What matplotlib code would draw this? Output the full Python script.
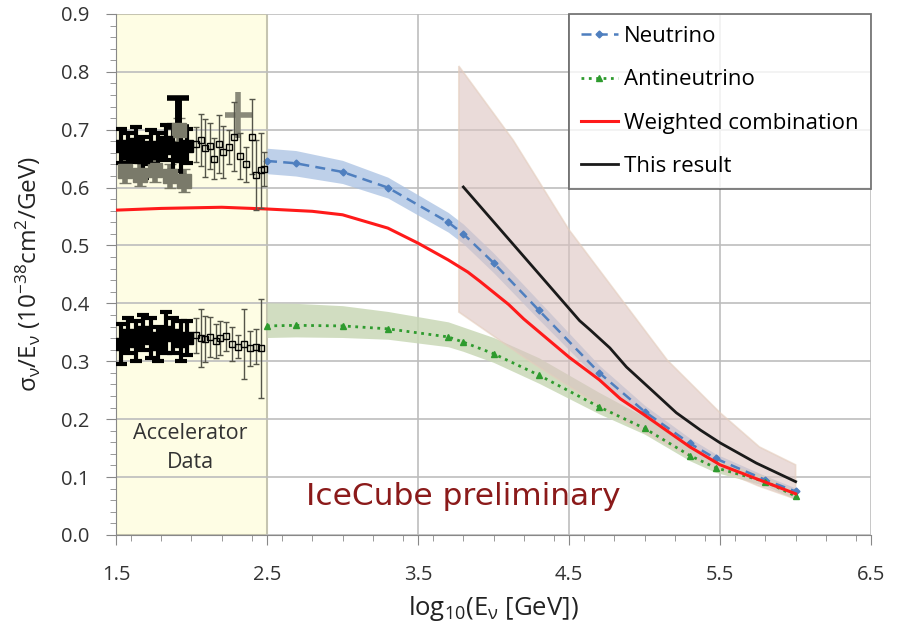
import numpy as np
import matplotlib
matplotlib.use("Agg")
import matplotlib.pyplot as plt
from matplotlib.ticker import MultipleLocator

plt.rcParams['mathtext.fontset'] = 'custom'
plt.rcParams['mathtext.rm'] = 'Open Sans'
plt.rcParams['mathtext.it'] = 'Open Sans:italic'

# -------------------------------
# Dados
# -------------------------------

# curvas de modelo (neutrino / antineutrino)
model_x = [2.5, 2.69, 3.0, 3.3, 3.7, 3.8, 4.0, 4.3, 4.7, 5.0, 5.3, 5.47, 5.8, 6.0]
nu_y = [0.646, 0.642, 0.627, 0.600, 0.540, 0.520, 0.470, 0.388, 0.280, 0.213, 0.158, 0.132, 0.095, 0.075]
nu_err = [0.022, 0.022, 0.020, 0.018, 0.017, 0.017, 0.017, 0.016, 0.013, 0.011, 0.009, 0.008, 0.007, 0.006]
anu_y = [0.361, 0.362, 0.361, 0.356, 0.342, 0.333, 0.313, 0.276, 0.221, 0.184, 0.137, 0.116, 0.092, 0.067]
anu_err_up = [0.040, 0.038, 0.035, 0.030, 0.026, 0.026, 0.028, 0.030, 0.025, 0.020, 0.015, 0.013, 0.010, 0.008]
anu_err_dn = [0.020, 0.020, 0.020, 0.018, 0.017, 0.016, 0.015, 0.014, 0.012, 0.010, 0.009, 0.008, 0.007, 0.006]

# combinação ponderada
comb_x = [1.5, 1.8, 2.2, 2.5, 2.8, 3.0, 3.3, 3.5, 3.7, 3.83, 3.91, 4.1, 4.2, 4.5, 4.7, 4.84, 5.0, 5.3, 5.5, 5.76, 6.0]
comb_y = [0.561, 0.564, 0.566, 0.563, 0.559, 0.553, 0.530, 0.504, 0.475, 0.454, 0.438, 0.398, 0.373, 0.307,
          0.268, 0.235, 0.207, 0.152, 0.121, 0.095, 0.071]

# este resultado (IceCube)
this_x = [3.8, 4.29, 4.57, 4.64, 4.77, 4.88, 5.06, 5.21, 5.37, 5.5, 5.74, 6.0]
this_y = [0.601, 0.454, 0.370, 0.354, 0.323, 0.290, 0.247, 0.211, 0.181, 0.159, 0.124, 0.092]
band_up_x = [3.77, 4.13, 4.5, 5.15, 5.5, 5.76, 6.0]
band_up_y = [0.810, 0.682, 0.527, 0.302, 0.211, 0.152, 0.121]
band_dn_x = [3.77, 4.24, 4.84, 5.3, 5.75, 6.0]
band_dn_y = [0.385, 0.300, 0.200, 0.135, 0.085, 0.062]

# dados de acelerador - neutrino
acc_nu_x = [1.53, 1.58, 1.63, 1.68, 1.73, 1.78, 1.83, 1.88, 1.93, 1.97]
acc_nu_y = [0.672, 0.660, 0.675, 0.652, 0.670, 0.660, 0.678, 0.668, 0.655, 0.672]
acc_nu_err = [0.030, 0.035, 0.030, 0.035, 0.030, 0.035, 0.030, 0.040, 0.035, 0.030]
acc_nu_gray_x = [1.56, 1.66, 1.76, 1.86, 1.95, 1.92]
acc_nu_gray_y = [0.628, 0.622, 0.630, 0.620, 0.612, 0.700]
acc_nu2_x = [2.03, 2.06, 2.09, 2.12, 2.15, 2.18, 2.21, 2.25, 2.28, 2.32, 2.36, 2.40, 2.43, 2.46, 2.48]
acc_nu2_y = [0.675, 0.682, 0.668, 0.672, 0.650, 0.676, 0.662, 0.670, 0.688, 0.655, 0.640, 0.688, 0.622, 0.630, 0.632]
acc_nu2_err = [0.030, 0.045, 0.050, 0.040, 0.035, 0.050, 0.045, 0.030, 0.060, 0.040, 0.030, 0.065, 0.060, 0.065, 0.030]

# dados de acelerador - antineutrino
acc_anu_x = [1.53, 1.58, 1.63, 1.68, 1.73, 1.78, 1.83, 1.88, 1.93, 1.97]
acc_anu_y = [0.330, 0.345, 0.335, 0.350, 0.340, 0.330, 0.350, 0.345, 0.335, 0.340]
acc_anu_err = [0.035, 0.030, 0.035, 0.030, 0.035, 0.030, 0.035, 0.030, 0.035, 0.030]
acc_anu2_x = [2.03, 2.06, 2.09, 2.12, 2.16, 2.19, 2.23, 2.27, 2.31, 2.35, 2.39, 2.43, 2.46]
acc_anu2_y = [0.345, 0.340, 0.338, 0.342, 0.335, 0.340, 0.343, 0.330, 0.325, 0.330, 0.322, 0.325, 0.322]
acc_anu2_err = [0.030, 0.050, 0.040, 0.035, 0.030, 0.030, 0.025, 0.030, 0.020, 0.060, 0.030, 0.030, 0.085]

# -------------------------------
# Figura
# -------------------------------

fig = plt.figure(figsize=(8.99, 6.33), dpi=100)
ax = fig.add_axes([0.129, 0.155, 0.840, 0.823])

ax.set_xlim(1.5, 6.5)
ax.set_ylim(0.0, 0.9)

# região de dados de acelerador
ax.axvspan(1.5, 2.5, facecolor='#FEFDE4', edgecolor='#EDE97A', lw=1.5, zorder=0)

ax.grid(True, which='major', color='#BDBDBD', lw=1.2, zorder=0.5)
ax.set_axisbelow(True)

mx = np.array(model_x)
nu = np.array(nu_y)
anu = np.array(anu_y)

# bandas de incerteza
ax.fill_between(mx, nu - np.array(nu_err), nu + np.array(nu_err),
                color='#A9C1E2', alpha=0.75, lw=0, zorder=1)
ax.fill_between(mx, anu - np.array(anu_err_dn), anu + np.array(anu_err_up),
                color='#C9D8B6', alpha=0.85, lw=0, zorder=1)

poly_x = list(band_up_x) + [6.0] + list(band_dn_x[::-1])
poly_y = list(band_up_y) + [band_dn_y[-1]] + list(band_dn_y[::-1])
ax.fill(poly_x, poly_y, facecolor='#DCC3C1', edgecolor='#E4CDBC',
        alpha=0.6, lw=1.2, zorder=1.5)

# curvas
ax.plot(mx, nu, color='#4F7FBF', ls=(0, (4, 2.5)), lw=1.8, marker='D', ms=3.5,
        label='Neutrino', zorder=3)
ax.plot(mx, anu, color='#2E9B2E', ls=':', lw=2.0, marker='^', ms=5,
        label='Antineutrino', zorder=3)
ax.plot(comb_x, comb_y, color='#FF1A1A', lw=2.2, label='Weighted combination', zorder=4)
ax.plot(this_x, this_y, color='#1A1A1A', lw=2.0, label='This result', zorder=4)

# dados de acelerador
ekw = dict(fmt='s', color='black', mfc='black', mec='black', zorder=5)
ax.errorbar(acc_nu_gray_x, acc_nu_gray_y, yerr=0.02, xerr=0.025, fmt='s', color='#7A7A6A',
            ms=10, elinewidth=4, capsize=4, zorder=5)
ax.errorbar(acc_nu_x, acc_nu_y, yerr=acc_nu_err, xerr=0.025, ms=8, elinewidth=3,
            capsize=4, capthick=3, **ekw)
ax.errorbar([1.91], [0.730], yerr=0.025, fmt='none', ecolor='black', elinewidth=5,
            capsize=8, capthick=4, zorder=5)
ax.errorbar([2.31], [0.725], yerr=0.04, xerr=0.09, fmt='none', ecolor='#8A8A7A',
            elinewidth=4, capsize=0, zorder=5)
ax.errorbar(acc_nu2_x, acc_nu2_y, yerr=acc_nu2_err, fmt='s', color='#55554A', mfc='none',
            mec='black', ms=5, elinewidth=1.0, capsize=2, zorder=5)

ax.errorbar(acc_anu_x, acc_anu_y, yerr=acc_anu_err, xerr=0.025, ms=9, elinewidth=3,
            capsize=4, capthick=3, **ekw)
ax.errorbar(acc_anu2_x, acc_anu2_y, yerr=acc_anu2_err, fmt='s', color='#55554A', mfc='none',
            mec='black', ms=5, elinewidth=1.0, capsize=2, zorder=5)

# textos
ax.text(1.99, 0.150, 'Accelerator\nData', ha='center', va='center', fontsize=15.5,
        family='Open Sans', color='#333333', linespacing=1.5, zorder=6)
ax.text(3.80, 0.066, 'IceCube preliminary', ha='center', va='center', fontsize=22.5,
        color='#8B1A1A', zorder=6)

# eixos
ax.xaxis.set_minor_locator(MultipleLocator(0.2))
ax.yaxis.set_minor_locator(MultipleLocator(0.02))
ax.set_xticks([1.5, 2.5, 3.5, 4.5, 5.5, 6.5])
ax.set_xticklabels(['1.5', '2.5', '3.5', '4.5', '5.5', '6.5'], family='Open Sans',
                   fontsize=14.5, color='#333333')
ax.set_yticks(np.arange(0, 0.91, 0.1))
ax.set_yticklabels([f'{v:.1f}' for v in np.arange(0, 0.91, 0.1)], family='Open Sans',
                   fontsize=14.5, color='#333333')
ax.tick_params(axis='both', which='major', direction='out', length=7, color='#888888', pad=12)
ax.tick_params(axis='both', which='minor', direction='out', length=4, color='#888888')
ax.tick_params(axis='x', which='major', pad=15)

for side in ['top', 'right']:
    ax.spines[side].set_visible(False)
for side in ['left', 'bottom']:
    ax.spines[side].set_color('#888888')

ax.set_xlabel(r'log$_\mathregular{10}$(E$_\mathregular{ν}$ [GeV])', family='Open Sans',
              fontsize=18.5, labelpad=6, color='#222222')
ax.set_ylabel(r'σ$_\mathregular{ν}$/E$_\mathregular{ν}$ (10$^\mathregular{-38}$cm$^\mathregular{2}$/GeV)',
              family='Open Sans', fontsize=17.5, color='#222222')
ax.yaxis.set_label_coords(-0.097, 0.50)

leg = ax.legend(loc='upper right', bbox_to_anchor=(1.0, 1.0), borderaxespad=0.0,
                frameon=True, fancybox=False, prop={'family': 'Open Sans', 'size': 16},
                labelspacing=1.0, handlelength=1.65, handletextpad=0.3,
                borderpad=0.55)
leg.get_frame().set_edgecolor('#555555')
leg.get_frame().set_linewidth(1.3)
leg.set_zorder(10)

plt.savefig('out.png', dpi=100)
